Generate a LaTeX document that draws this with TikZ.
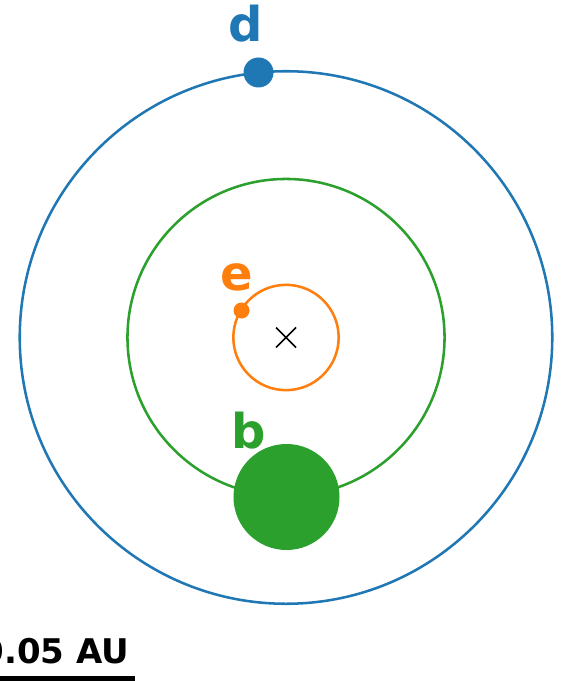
\documentclass[tikz,border=0pt]{standalone}
\usepackage{fontspec}
\setmainfont{DejaVu Sans}
\definecolor{tabblue}{HTML}{1F77B4}
\definecolor{taborange}{HTML}{FF7F0E}
\definecolor{tabgreen}{HTML}{2CA02C}
\begin{document}
\begin{tikzpicture}[x=0.75pt,y=-0.75pt,
  orbit/.style={line width=1.9pt},
  planet/.style={circle,inner sep=0pt,outer sep=0pt},
  lbl/.style={anchor=base,inner sep=0pt,font=\bfseries\fontsize{36}{40}\selectfont}]
\useasboundingbox (0,0) rectangle (568,681);
\coordinate (c) at (286,337.5);
\draw[orbit,tabblue] (c) circle[radius=199.7pt];
\draw[orbit,tabgreen] (c) circle[radius=118.9pt];
\draw[orbit,taborange] (c) circle[radius=39.5pt];
\draw[line width=1.2pt] (276,327.5) -- (296,347.5) (276,347.5) -- (296,327.5);
\node[planet,fill=tabblue,minimum size=22.5pt] (d) at (258.5,72.5) {};
\node[planet,fill=taborange,minimum size=12pt] (e) at (241.5,310.5) {};
\node[planet,fill=tabgreen,minimum size=79.5pt] (b) at (286.5,497) {};
\node[lbl,text=tabblue] (ld) at (245.5,42) {d};
\node[lbl,text=taborange] (le) at (237,290) {e};
\node[lbl,text=tabgreen] (lb) at (248.5,448) {b};
\node[anchor=base east,inner sep=0pt,font=\bfseries\fontsize{25.5}{28}\selectfont] (sl) at (129.5,663) {0.05 AU};
\fill (-10,675.5) rectangle (135,681);
\end{tikzpicture}
\end{document}
